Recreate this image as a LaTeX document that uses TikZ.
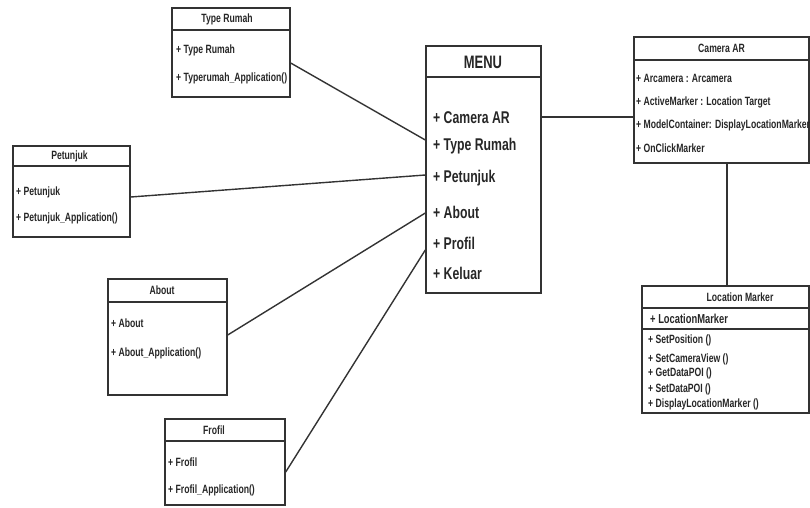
\documentclass[tikz,border=0pt]{standalone}
\usepackage{fontspec}
\setmainfont{Liberation Sans}[FakeStretch=0.72]
\begin{document}
\begin{tikzpicture}[x=1pt,y=-1pt]
        \tikzstyle{classbox}=[rectangle, draw=black!80, line width=1.4pt, inner sep=0pt]
        \tikzstyle{title}=[inner sep=0pt, text=black!85, font=\fontsize{12}{14}\selectfont\bfseries]
        \tikzstyle{item}=[anchor=west, inner sep=0pt, text=black!85, font=\fontsize{12}{14}\selectfont\bfseries]
        \tikzstyle{link}=[draw=black!80, line width=1.4pt]
        \useasboundingbox (0,0) rectangle (810,507);
        % class boxes
        \node[classbox, minimum width=118, minimum height=89] (TypeRumah) at (231,52.5) {};
        \node[classbox, minimum width=115, minimum height=247] (Menu) at (483.5,169.5) {};
        \node[classbox, minimum width=175, minimum height=126] (CameraAR) at (721.5,100) {};
        \node[classbox, minimum width=167, minimum height=127] (LocMarker) at (725.5,349.5) {};
        \node[classbox, minimum width=117, minimum height=91] (Petunjuk) at (71.5,191.5) {};
        \node[classbox, minimum width=119, minimum height=116] (About) at (167.5,337) {};
        \node[classbox, minimum width=120, minimum height=86] (Frofil) at (225,462) {};
        % header lines
        \draw[link, line width=2pt] (172,30) -- (290,30);
        \draw[link, line width=2pt] (426,77) -- (541,77);
        \draw[link, line width=2pt] (634,60) -- (809,60);
        \draw[link, line width=2pt] (642,308) -- (809,308);
        \draw[link, line width=2pt] (642,329) -- (809,329);
        \draw[link, line width=2pt] (13,166) -- (130,166);
        \draw[link, line width=2pt] (108,302) -- (227,302);
        \draw[link, line width=2pt] (165,441) -- (285,441);
        % titles
        \node[title] (TypeRumahT) at (227,19) {Type Rumah};
        \node[title, font=\fontsize{18}{20}\selectfont\bfseries] (MenuT) at (483,62) {MENU};
        \node[title] (CameraART) at (721.5,48) {Camera AR};
        \node[title] (LocMarkerT) at (740,297) {Location Marker};
        \node[title] (PetunjukT) at (69.5,156) {Petunjuk};
        \node[title] (AboutT) at (162,290) {About};
        \node[title] (FrofilT) at (214,430) {Frofil};
        % members
        \foreach \y/\t [count=\i] in {50/{+ Type Rumah}, 78/{+ Typerumah\_Application()}}
            \node[item] (tr\i) at (176,\y) {\t};
        \foreach \y/\t [count=\i] in {118/{+ Camera AR}, 146/{+ Type Rumah}, 178/{+ Petunjuk},
                                     212/{+ About}, 243/{+ Profil}, 273/{+ Keluar}}
            \node[item, font=\fontsize{17}{19}\selectfont\bfseries] (m\i) at (433,\y) {\t};
        \foreach \y/\t [count=\i] in {78/{+ Arcamera : Arcamera}, 102/{+ ActiveMarker : Location Target},
                                     125/{+ ModelContainer: DisplayLocationMarker}, 148/{+ OnClickMarker}}
            \node[item] (cam\i) at (636,\y) {\t};
        \node[item, font=\fontsize{13}{14}\selectfont\bfseries] (loc0) at (650,319) {+ LocationMarker};
        \foreach \y/\t [count=\i] in {340/{+ SetPosition ()}, 359/{+ SetCameraView ()}, 373/{+ GetDataPOI ()},
                                     389/{+ SetDataPOI ()}, 404/{+ DisplayLocationMarker ()}}
            \node[item] (loc\i) at (648,\y) {\t};
        \foreach \y/\t [count=\i] in {192/{+ Petunjuk}, 218/{+ Petunjuk\_Application()}}
            \node[item] (pt\i) at (16,\y) {\t};
        \foreach \y/\t [count=\i] in {323/{+ About}, 353/{+ About\_Application()}}
            \node[item] (ab\i) at (111,\y) {\t};
        \foreach \y/\t [count=\i] in {462/{+ Frofil}, 490/{+ Frofil\_Application()}}
            \node[item] (fr\i) at (168,\y) {\t};
        % connectors
        \draw[link] ([yshift=-10.5pt]TypeRumah.east) -- ([yshift=29.5pt]Menu.west);
        \draw[link] ([yshift=-5.5pt]Petunjuk.east) -- ([yshift=-5.5pt]Menu.west);
        \draw[link] ([yshift=2pt]About.east) -- ([yshift=-43.5pt]Menu.west);
        \draw[link] ([yshift=-10pt]Frofil.east) -- ([yshift=-80.5pt]Menu.west);
        \draw[link] ([yshift=52.5pt]Menu.east) -- ([yshift=-17pt]CameraAR.west);
        \draw[link] ([xshift=5.5pt]CameraAR.south) -- ([xshift=1.5pt]LocMarker.north);
\end{tikzpicture}
\end{document}
